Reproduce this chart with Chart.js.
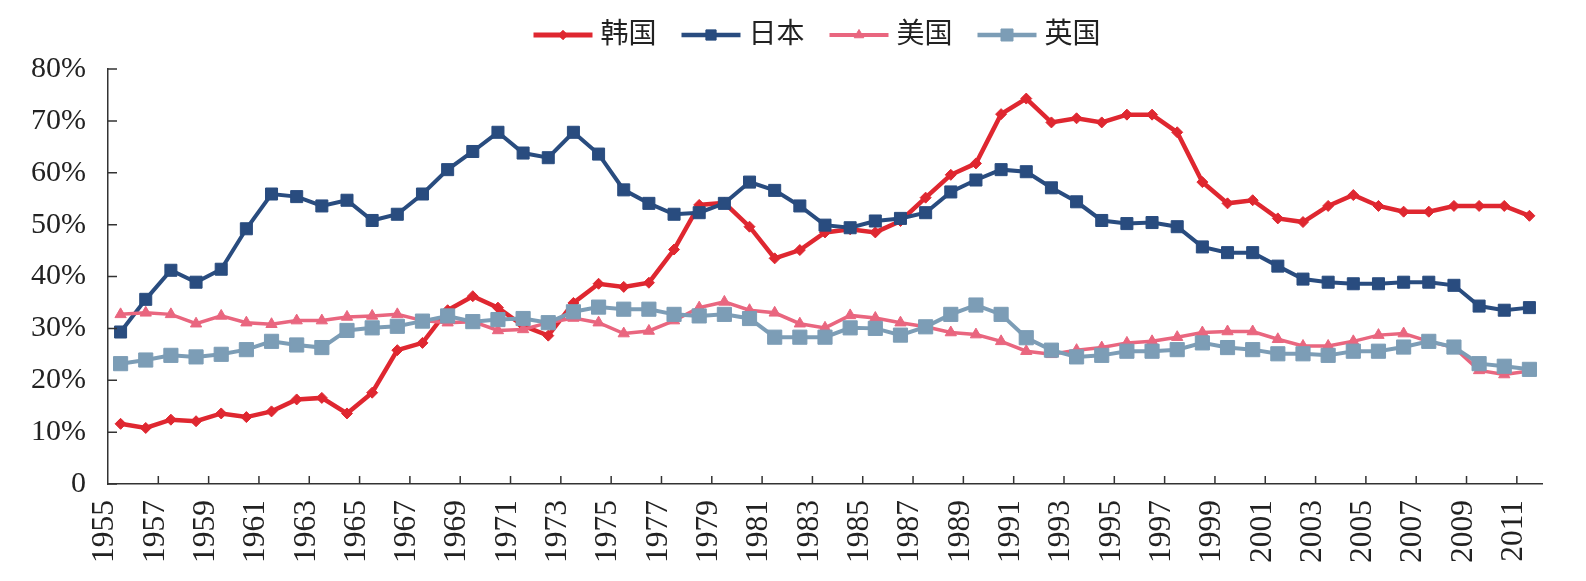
<!DOCTYPE html>
<html>
<head>
<meta charset="utf-8">
<script src="https://cdn.jsdelivr.net/npm/chart.js@4"></script>
<style>
  html, body { margin: 0; padding: 0; background: #fff; }
  #wrap { width: 1586px; height: 581px; position: relative; }
</style>
</head>
<body>
<div id="wrap"><canvas id="shareChart"></canvas></div>
<script>
// years on the category axis (one point per year)
const years = [1955, 1956, 1957, 1958, 1959, 1960, 1961, 1962, 1963, 1964,
  1965, 1966, 1967, 1968, 1969, 1970, 1971, 1972, 1973, 1974,
  1975, 1976, 1977, 1978, 1979, 1980, 1981, 1982, 1983, 1984,
  1985, 1986, 1987, 1988, 1989, 1990, 1991, 1992, 1993, 1994,
  1995, 1996, 1997, 1998, 1999, 2000, 2001, 2002, 2003, 2004,
  2005, 2006, 2007, 2008, 2009, 2010, 2011];

const tickYears = [1955, 1957, 1959, 1961, 1963, 1965, 1967, 1969, 1971, 1973,
  1975, 1977, 1979, 1981, 1983, 1985, 1987, 1989, 1991, 1993,
  1995, 1997, 1999, 2001, 2003, 2005, 2007, 2009, 2011];

const yTicks = [0, 10, 20, 30, 40, 50, 60, 70, 80];

// values in %
const korea = [11.6, 10.8, 12.4, 12.1, 13.6, 12.9, 14.0, 16.3, 16.6, 13.6,
  17.6, 25.8, 27.2, 33.5, 36.2, 34.0, 30.5, 28.6, 34.9, 38.6,
  38.0, 38.8, 45.2, 53.8, 54.2, 49.6, 43.5, 45.1, 48.5, 49.1,
  48.5, 50.7, 55.2, 59.6, 61.8, 71.3, 74.3, 69.7, 70.5, 69.7,
  71.2, 71.2, 67.8, 58.2, 54.1, 54.7, 51.2, 50.5, 53.6, 55.7,
  53.6, 52.5, 52.5, 53.6, 53.6, 53.6, 51.7];

const japan = [29.3, 35.6, 41.2, 38.9, 41.4, 49.2, 55.9, 55.4, 53.6, 54.7,
  50.8, 52.0, 55.9, 60.6, 64.1, 67.8, 63.8, 62.9, 67.8, 63.6,
  56.7, 54.1, 52.0, 52.3, 54.1, 58.2, 56.6, 53.6, 49.9, 49.4,
  50.7, 51.2, 52.3, 56.3, 58.6, 60.6, 60.2, 57.1, 54.4, 50.8,
  50.2, 50.4, 49.6, 45.7, 44.6, 44.6, 42.0, 39.5, 38.9, 38.6,
  38.6, 38.9, 38.9, 38.3, 34.3, 33.5, 34.0];

const usa = [32.7, 33.0, 32.7, 30.9, 32.4, 31.1, 30.8, 31.5, 31.5, 32.2,
  32.4, 32.7, 31.5, 31.1, 31.3, 29.6, 29.8, 31.1, 32.0, 31.1,
  29.0, 29.5, 31.5, 34.0, 35.1, 33.5, 33.0, 30.9, 30.1, 32.5,
  32.0, 31.1, 30.3, 29.2, 28.8, 27.5, 25.6, 25.0, 25.8, 26.3,
  27.2, 27.5, 28.3, 29.2, 29.4, 29.4, 27.9, 26.6, 26.6, 27.5,
  28.7, 29.0, 27.5, 26.3, 21.9, 21.1, 21.8];

const uk = [23.2, 23.9, 24.8, 24.5, 25.0, 25.9, 27.5, 26.8, 26.3, 29.6,
  30.1, 30.4, 31.4, 32.4, 31.3, 31.7, 31.9, 31.1, 33.2, 34.1,
  33.7, 33.7, 32.7, 32.4, 32.7, 31.9, 28.3, 28.3, 28.3, 30.1,
  30.0, 28.7, 30.3, 32.7, 34.5, 32.7, 28.2, 25.8, 24.5, 24.8,
  25.6, 25.6, 25.9, 27.2, 26.3, 25.9, 25.1, 25.1, 24.8, 25.6,
  25.6, 26.4, 27.5, 26.4, 23.2, 22.7, 22.1];

const seriesNames = ["韩国", "日本", "美国", "英国"];

const serif = '"Liberation Serif", "Times New Roman", serif';
const cjk = '"Liberation Serif", "Noto Sans CJK SC", serif';
const axisColor = "#333";
const textColor = "#222";

// each point sits in the middle of its year
function pts(values) {
  return values.map((v, i) => ({ x: years[i] + 0.5, y: v }));
}

// legend drawn by hand: line with the marker in the middle
const lineLegend = {
  id: "lineLegend",
  afterDraw(chart) {
    const ctx = chart.ctx;
    const sets = chart.data.datasets;
    const lineLen = 59, gap = 8, itemGap = 25, cy = 35, cx = 817;
    ctx.save();
    ctx.font = "28px " + cjk;
    const widths = sets.map(d => ctx.measureText(d.label).width);
    const total = widths.reduce((a, w) => a + lineLen + gap + w, 0) + itemGap * (sets.length - 1);
    let x = cx - total / 2;
    sets.forEach((d, i) => {
      ctx.strokeStyle = d.borderColor;
      ctx.lineWidth = d.borderWidth + 0.5;
      ctx.beginPath();
      ctx.moveTo(x, cy);
      ctx.lineTo(x + lineLen, cy);
      ctx.stroke();
      ctx.fillStyle = d.pointBackgroundColor;
      ctx.strokeStyle = d.pointBorderColor;
      ctx.lineWidth = d.pointBorderWidth;
      Chart.helpers.drawPoint(ctx, {
        pointStyle: d.pointStyle, radius: d.pointRadius * 0.85, rotation: 0,
        borderWidth: d.pointBorderWidth
      }, x + lineLen / 2, cy);
      ctx.fillStyle = textColor;
      ctx.textAlign = "left";
      ctx.textBaseline = "middle";
      ctx.fillText(d.label, x + lineLen + gap, cy + 1);
      x += lineLen + gap + widths[i] + itemGap;
    });
    ctx.restore();
  }
};

// tick marks point into the plot
const innerTicks = {
  id: "innerTicks",
  afterDraw(chart) {
    const { ctx, scales } = chart;
    const xs = scales.x, ys = scales.y;
    ctx.save();
    ctx.strokeStyle = axisColor;
    ctx.lineWidth = 1.5;
    ctx.beginPath();
    yTicks.forEach(v => {
      const py = ys.getPixelForValue(v);
      ctx.moveTo(xs.left, py);
      ctx.lineTo(xs.left + 9, py);
    });
    tickYears.slice(1).forEach(v => {
      const px = xs.getPixelForValue(v);
      ctx.moveTo(px, ys.bottom);
      ctx.lineTo(px, ys.bottom - 8);
    });
    ctx.stroke();
    ctx.restore();
  }
};

function series(label, values, color, style, radius, width, order) {
  return {
    label: label,
    data: pts(values),
    borderColor: color,
    backgroundColor: color,
    borderWidth: width,
    pointStyle: style,
    pointRadius: radius,
    pointHoverRadius: radius,
    pointBackgroundColor: color,
    pointBorderColor: color,
    pointBorderWidth: 1,
    tension: 0,
    clip: false,
    order: order
  };
}

new Chart(document.getElementById("shareChart"), {
  type: "line",
  data: {
    datasets: [
      series(seriesNames[0], korea, "#DF2730", "rectRot", 5.5, 4.5, 3),
      series(seriesNames[1], japan, "#294C7F", "rect", 8.5, 4, 2),
      series(seriesNames[2], usa, "#E9667F", "triangle", 6.5, 3.5, 1),
      series(seriesNames[3], uk, "#7C9DB6", "rect", 10, 4, 0)
    ]
  },
  options: {
    responsive: true,
    maintainAspectRatio: false,
    animation: false,
    devicePixelRatio: 1,
    layout: { padding: { top: 69, right: 44, left: 0, bottom: 0 } },
    plugins: {
      legend: { display: false },
      tooltip: { enabled: false }
    },
    scales: {
      x: {
        type: "linear",
        min: 1955,
        max: 2012,
        afterBuildTicks: s => { s.ticks = tickYears.map(v => ({ value: v })); },
        afterFit: s => { s.height = 97; },
        grid: { display: false, drawTicks: false },
        border: { display: true, color: axisColor, width: 1.5 },
        ticks: {
          autoSkip: false,
          minRotation: 90,
          maxRotation: 90,
          padding: 16,
          labelOffset: -3,
          color: textColor,
          font: { family: serif, size: 31.5 },
          callback: v => String(v)
        }
      },
      y: {
        min: 0,
        max: 80,
        afterBuildTicks: s => { s.ticks = yTicks.map(v => ({ value: v })); },
        afterFit: s => { s.width = 108; },
        grid: { display: false, drawTicks: false },
        border: { display: true, color: axisColor, width: 1.5 },
        ticks: {
          padding: 22,
          color: textColor,
          font: { family: serif, size: 30 },
          callback: v => (v === 0 ? "0" : v + "%")
        }
      }
    }
  },
  plugins: [lineLegend, innerTicks]
});
</script>
</body>
</html>
